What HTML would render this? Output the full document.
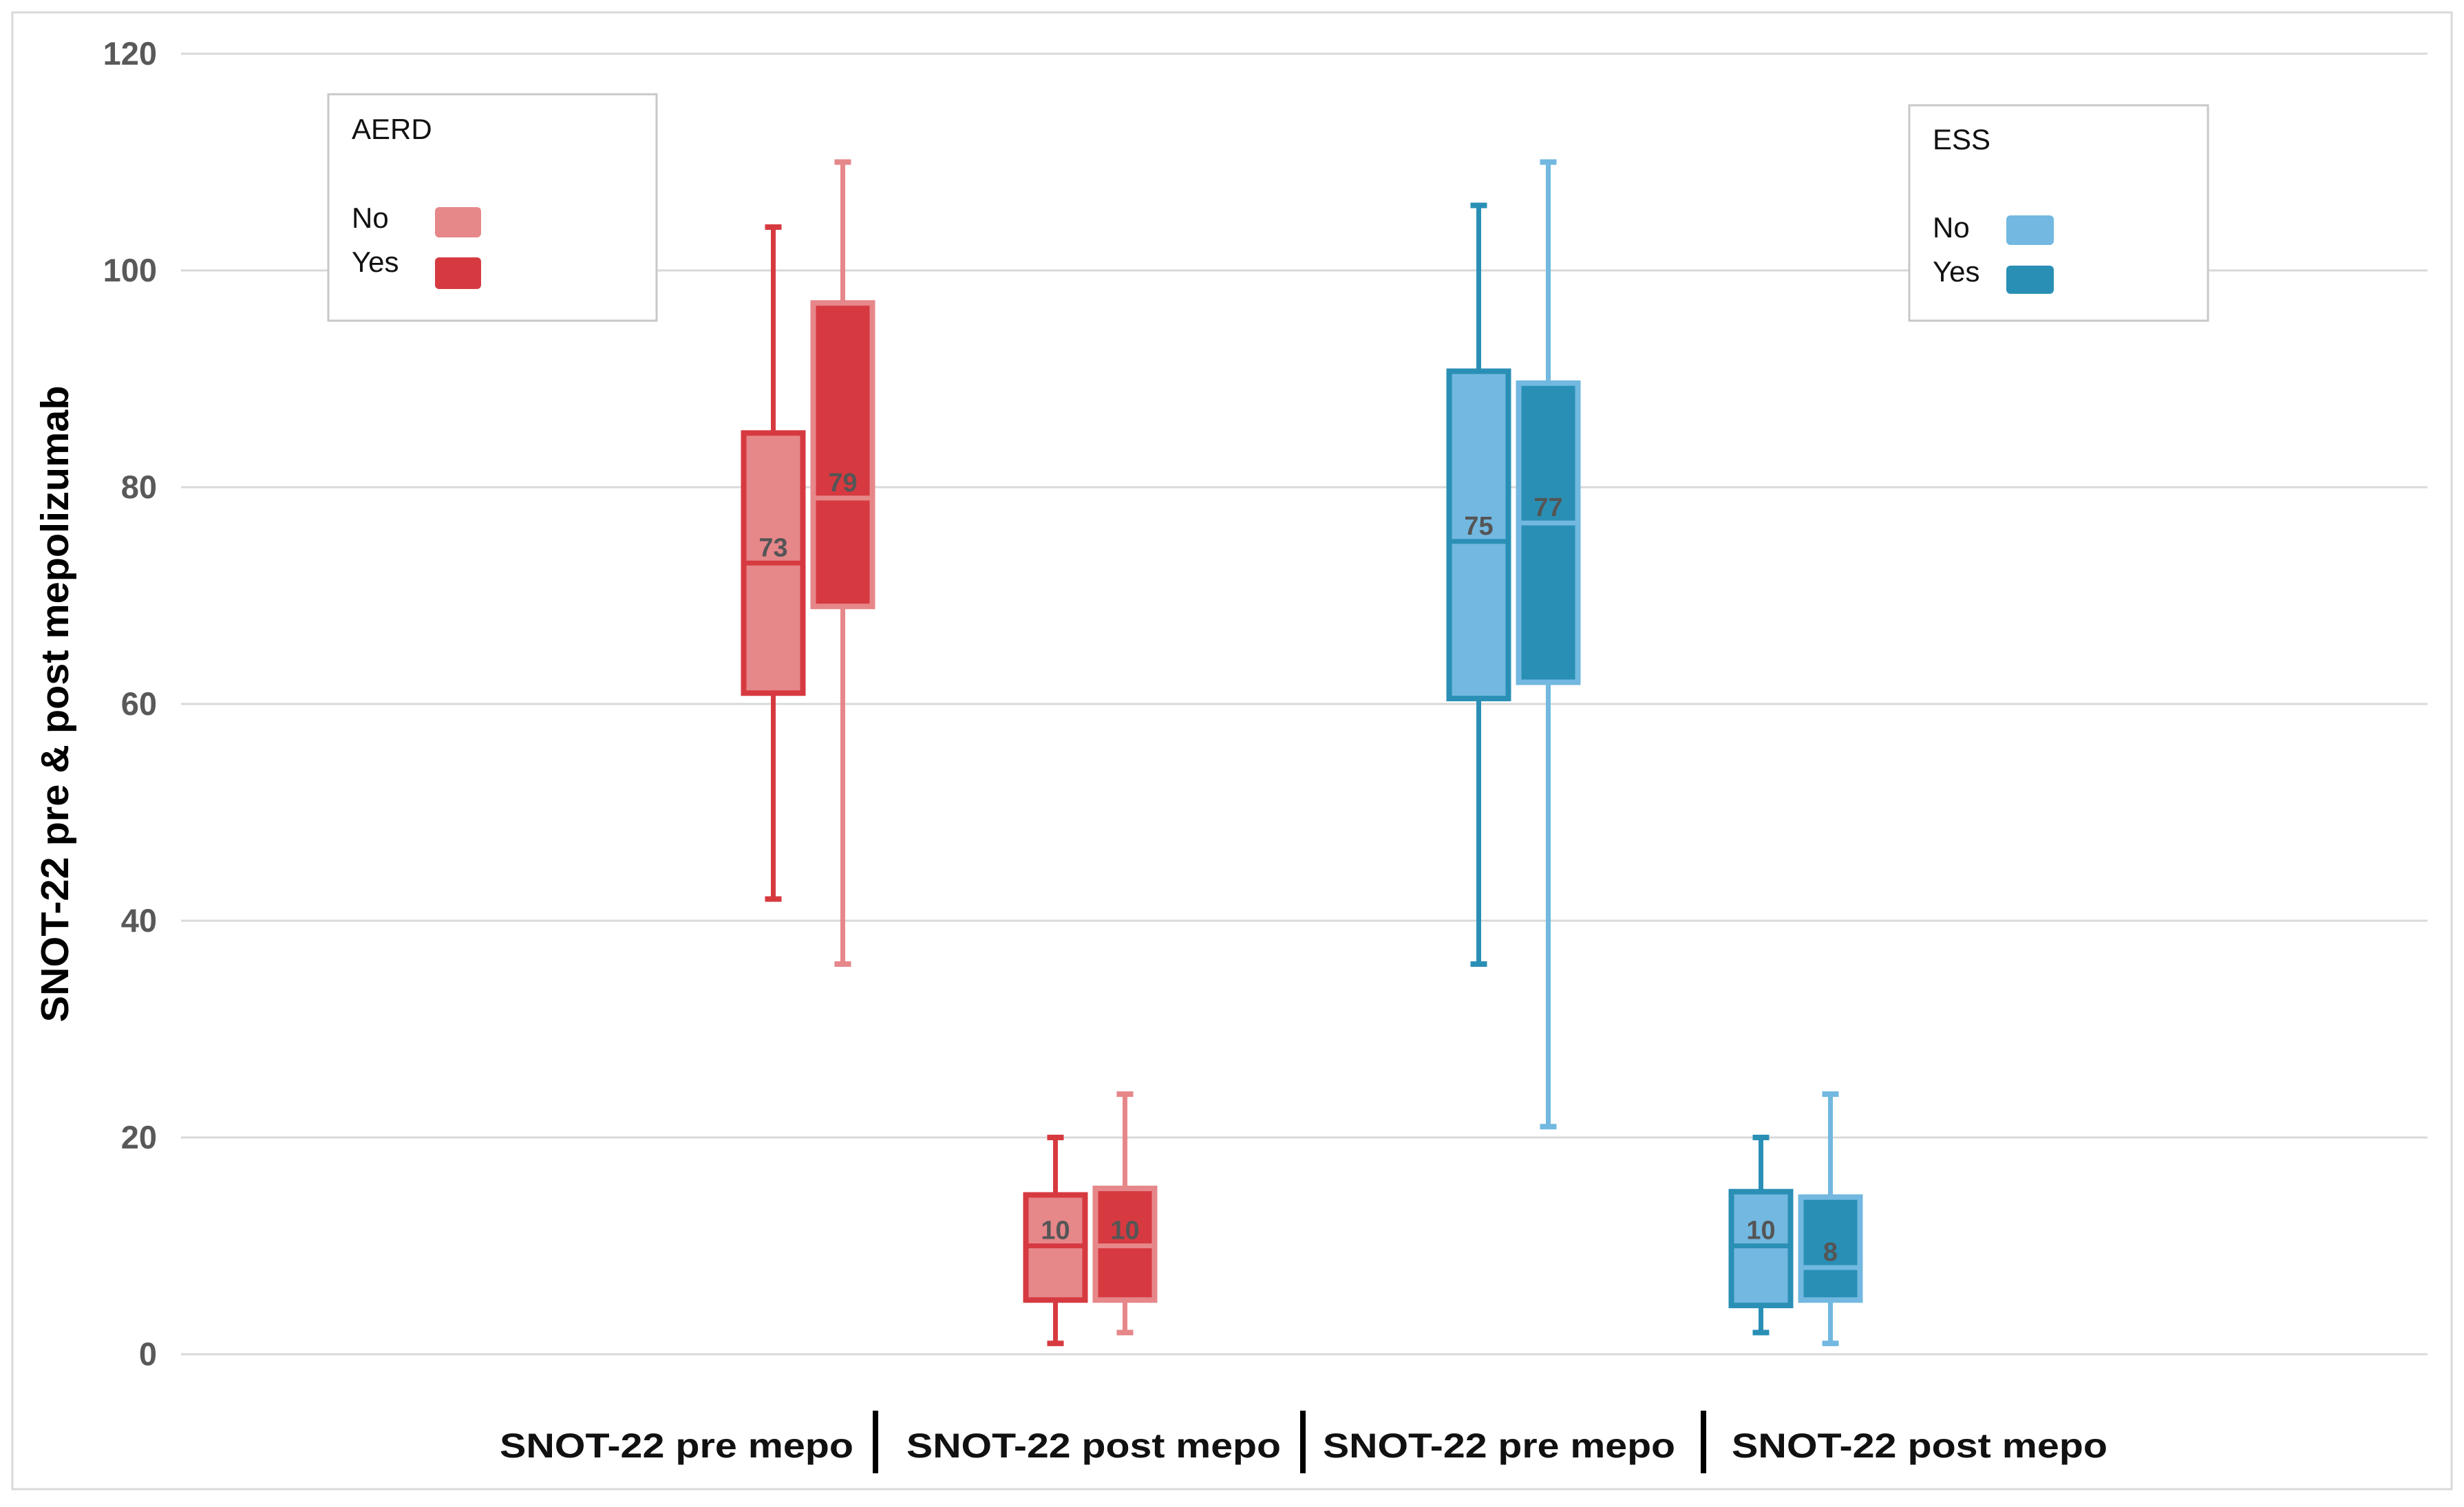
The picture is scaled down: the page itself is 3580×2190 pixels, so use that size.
<!DOCTYPE html>
<html><head><meta charset="utf-8"><style>
html,body{margin:0;padding:0;background:#fff}
svg{display:block;font-family:"Liberation Sans",sans-serif}
</style></head><body>
<svg id="chart" width="3580" height="2190" viewBox="0 0 3580 2190">
<rect x="18" y="18" width="3544" height="2146" fill="#fff" stroke="#d9d9d9" stroke-width="3"/>
<g id="grid"></g>
<g id="yticks"></g>
<text transform="translate(99,1023) rotate(-90)" text-anchor="middle" font-size="57" font-weight="bold" fill="#000" textLength="925" lengthAdjust="spacingAndGlyphs">SNOT-22 pre &amp; post mepolizumab</text>
<g id="boxes"></g>
<g id="xlabels"></g>
<g>
<rect x="477" y="137" width="477" height="329" fill="#fff" stroke="#c8c8c8" stroke-width="3"/>
<text x="511" y="202" font-size="42" fill="#111">AERD</text>
<text x="511" y="331" font-size="42" fill="#111">No</text>
<text x="511" y="395" font-size="42" fill="#111">Yes</text>
<rect x="632" y="301" width="67" height="44" rx="6" fill="#E6878A"/>
<rect x="632" y="374" width="67" height="46" rx="6" fill="#D63A40"/>
</g>
<g>
<rect x="2774" y="153" width="434" height="313" fill="#fff" stroke="#c8c8c8" stroke-width="3"/>
<text x="2808" y="217" font-size="42" fill="#111">ESS</text>
<text x="2808" y="345" font-size="42" fill="#111">No</text>
<text x="2808" y="409" font-size="42" fill="#111">Yes</text>
<rect x="2915" y="313" width="69" height="43" rx="6" fill="#72B8E0"/>
<rect x="2915" y="386" width="69" height="41" rx="6" fill="#2A8FB5"/>
</g>
</svg>
<script>
const yTicks = [0, 20, 40, 60, 80, 100, 120];
const groupNames = ["AERD pre", "AERD post", "ESS pre", "ESS post"];
const groupSlots = [0, 1, 2.5, 3.5];
const seriesNames = ["No", "Yes"];
const whiskerLow  = [[42, 36], [1, 2], [36, 21], [2, 1]];
const q1Values    = [[61, 69], [5, 5], [60.5, 62], [4.5, 5]];
const medians     = [[73, 79], [10, 10], [75, 76.7], [10, 8]];
const q3Values    = [[85, 97], [14.7, 15.3], [90.7, 89.6], [15, 14.5]];
const whiskerHigh = [[104, 110], [20, 24], [106, 110], [20, 24]];
const medianLabels = [["73", "79"], ["10", "10"], ["75", "77"], ["10", "8"]];
const xLabels = ["SNOT-22 pre mepo", "SNOT-22 post mepo", "SNOT-22 pre mepo", "SNOT-22 post mepo"];

const NS = "http://www.w3.org/2000/svg";
const plotL = 263, plotR = 3527, y0 = 1968, yTop = 78;
const yScale = v => y0 - (v - 0) / 120 * (y0 - yTop);
const xScale = s => 1174 + s * 410;
const palette = {
  AERD: { light: "#E6878A", dark: "#D63A40" },
  ESS:  { light: "#72B8E0", dark: "#2A8FB5" }
};
function mk(tag, attrs, parent) {
  const e = document.createElementNS(NS, tag);
  for (const k in attrs) e.setAttribute(k, attrs[k]);
  parent.appendChild(e);
  return e;
}
const grid = document.getElementById("grid");
const yt = document.getElementById("yticks");
yTicks.forEach(t => {
  const ln = mk("line", { x1: plotL, x2: plotR, y1: yScale(t), y2: yScale(t), stroke: "#d9d9d9", "stroke-width": 3 }, grid);
  
  
  const tx = mk("text", { x: 228, y: yScale(t) + 16, "text-anchor": "end", "font-size": 47, "font-weight": "bold", fill: "#595959" }, yt);
  tx.textContent = t;
  
  
});
const boxes = document.getElementById("boxes");
const bw = 94, gap = 7;
groupNames.forEach((g, gi) => {
  const pal = g.startsWith("AERD") ? palette.AERD : palette.ESS;
  const cx = xScale(groupSlots[gi]);
  seriesNames.forEach((s, si) => {
    const fill = si === 0 ? pal.light : pal.dark;
    const edge = si === 0 ? pal.dark : pal.light;
    const left = si === 0 ? cx - gap / 2 - bw : cx + gap / 2;
    const mid = left + bw / 2;
    const grp = mk("g", {}, boxes);
    
    
    const yl = yScale(whiskerLow[gi][si]), yh = yScale(whiskerHigh[gi][si]);
    const yq1 = yScale(q1Values[gi][si]), yq3 = yScale(q3Values[gi][si]);
    const ym = yScale(medians[gi][si]);
    mk("line", { x1: mid, x2: mid, y1: yh, y2: yl, stroke: edge, "stroke-width": 7 }, grp);
    mk("line", { x1: mid - 12, x2: mid + 12, y1: yh, y2: yh, stroke: edge, "stroke-width": 8 }, grp);
    mk("line", { x1: mid - 12, x2: mid + 12, y1: yl, y2: yl, stroke: edge, "stroke-width": 8 }, grp);
    mk("rect", { x: left + 4, y: yq3, width: bw - 8, height: yq1 - yq3, fill: fill, stroke: edge, "stroke-width": 8 }, grp);
    mk("line", { x1: left + 4, x2: left + bw - 4, y1: ym, y2: ym, stroke: edge, "stroke-width": 7 }, grp);
    const lb = mk("text", { x: mid, y: ym - 10, "text-anchor": "middle", "font-size": 38, "font-weight": "bold", fill: "#555" }, grp);
    lb.textContent = medianLabels[gi][si];
    
    
  });
});
const xl = document.getElementById("xlabels");
const labelSpans = [[726, 1240], [1317, 1861], [1922, 2434], [2516, 3062]];
xLabels.forEach((t, i) => {
  const [a, b] = labelSpans[i];
  const tx = mk("text", { x: a, y: 2118, "font-size": 50, "font-weight": "bold", fill: "#111", textLength: b - a, lengthAdjust: "spacingAndGlyphs" }, xl);
  tx.textContent = t;
  
  
});
[1272, 1893, 2475].forEach((x, i) => {
  const r = mk("rect", { x: x - 4, y: 2050, width: 8, height: 91, fill: "#000" }, xl);
  
  
});
</script>
</body></html>
